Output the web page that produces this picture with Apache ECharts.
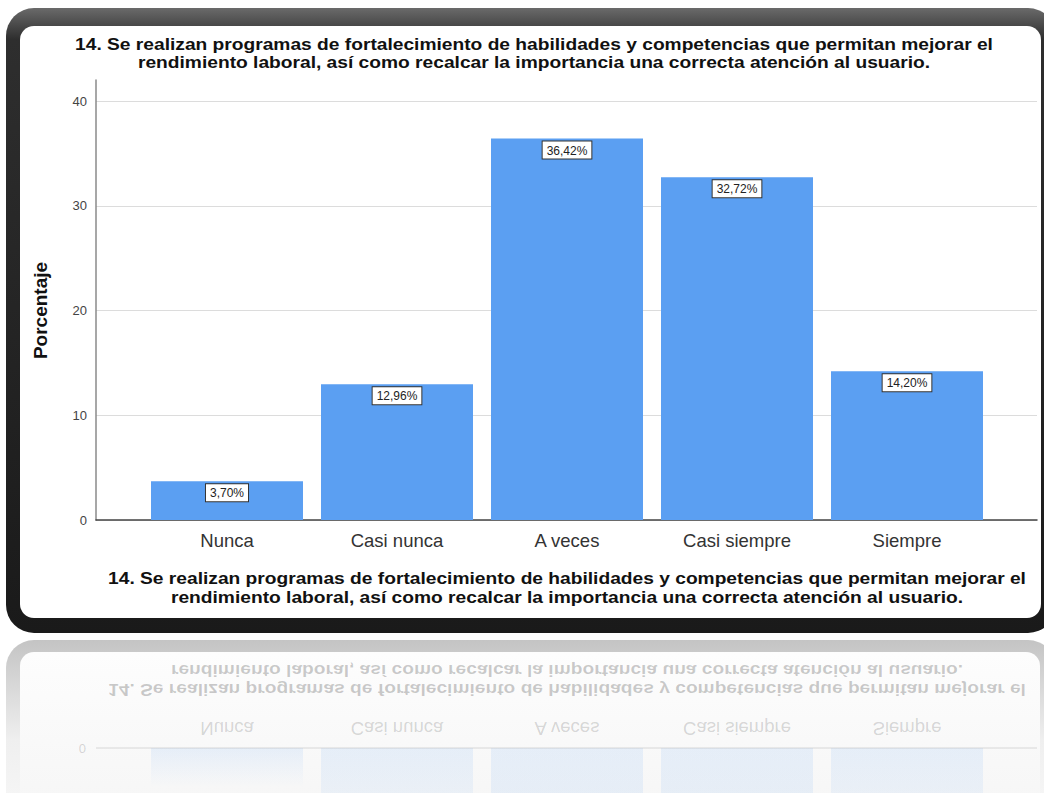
<!DOCTYPE html>
<html>
<head>
<meta charset="utf-8">
<script src="https://cdn.jsdelivr.net/npm/echarts@6/dist/echarts.min.js"></script>
<style>
html,body{margin:0;padding:0;background:#fff;}
#c{width:1044px;height:793px;}
</style>
</head>
<body>
<div id="c"></div>
<script>
const categories = ['Nunca', 'Casi nunca', 'A veces', 'Casi siempre', 'Siempre'];
const percentValues = [3.70, 12.96, 36.42, 32.72, 14.20];
const yTicks = [0, 10, 20, 30, 40];
const titleLines = [
  '14. Se realizan programas de fortalecimiento de habilidades y competencias que permitan mejorar el',
  'rendimiento laboral, así como recalcar la importancia una correcta atención al usuario.'
];
const yAxisTitle = 'Porcentaje';

const FONT = '"Liberation Sans", Arial, sans-serif';
const chart = echarts.init(document.getElementById('c'), null, {renderer: 'svg'});

const fmtPct = v => v.toFixed(2).replace('.', ',') + '%';

function titleText(txt, x, y, mirrored) {
  return {type:'text', z:5, x:x, y:y, scaleX:1.2, scaleY: mirrored ? -1 : 1,
    style:{text:txt, fontFamily:FONT, fontWeight:'bold', fontSize:16, fill:'#111',
      opacity: mirrored ? 0.22 : 1, align:'center', verticalAlign:'middle'}};
}

const frame = [
  // reflection frame
  {type:'rect', z:-10, shape:{x:6, y:640, width:1050, height:200, r:28},
   style:{fill:new echarts.graphic.LinearGradient(0,0,0,1,[{offset:0,color:'#c4c4c4'},{offset:0.5,color:'#efefef'},{offset:1,color:'#fafafa'}])}},
  {type:'rect', z:-9, shape:{x:20, y:652, width:1020, height:200, r:14},
   style:{fill:new echarts.graphic.LinearGradient(0,0,0,1,[{offset:0,color:'#fdfdfd'},{offset:1,color:'#f4f4f4'}])}},
  // main frame
  {type:'rect', z:-10, shape:{x:6, y:8, width:1050, height:625, r:28},
   style:{fill:new echarts.graphic.LinearGradient(0,0,0,1,[{offset:0,color:'#6a6a6a'},{offset:0.05,color:'#2e2e2e'},{offset:1,color:'#1a1a1a'}])}},
  {type:'rect', z:-9, shape:{x:20, y:26, width:1021, height:592, r:14},
   style:{fill:'#ffffff'}},
  // titles
  titleText(titleLines[0], 534, 45, false),
  titleText(titleLines[1], 534, 63, false),
  titleText(titleLines[0], 567, 579, false),
  titleText(titleLines[1], 567, 598, false),
  // reflected texts
  titleText(titleLines[0], 567, 689, true),
  titleText(titleLines[1], 567, 670, true),
  {type:'text', z:5, x:86, y:748, scaleY:-1, style:{text:'0', fontFamily:FONT, fontSize:13, fill:'#333', opacity:0.2, align:'right', verticalAlign:'middle'}},
  {type:'line', z:5, shape:{x1:96, y1:748, x2:1037, y2:748}, style:{stroke:'#999', opacity:0.35, lineWidth:1}}
];

const option = {
  backgroundColor: '#ffffff',
  animation: false,
  textStyle: {fontFamily: FONT},
  grid: [
    {left: 96, right: 7, top: 101, bottom: 273},
    {left: 142, right: 52, top: 101, bottom: 273},
    {left: 96, right: 7, top: 80, bottom: 273}
  ],
  xAxis: [
    {gridIndex:0, type:'value', min:0, max:1, show:true,
     axisLine:{show:true, onZero:false, lineStyle:{color:'#444', width:1.5}},
     axisTick:{show:false}, axisLabel:{show:false}, splitLine:{show:false}},
    {gridIndex:1, type:'category', data:categories,
     axisLine:{show:false}, axisTick:{show:false},
     axisLabel:{color:'#333', fontSize:18.5, margin:11, fontFamily:FONT}},
    {gridIndex:2, type:'value', min:0, max:1, show:false}
  ],
  yAxis: [
    {gridIndex:0, type:'value', min:yTicks[0], max:yTicks[yTicks.length-1], interval:10,
     name: yAxisTitle, nameLocation:'middle', nameGap:46, nameRotate:90,
     nameTextStyle:{fontSize:19, fontWeight:'bold', color:'#111', fontFamily:FONT},
     axisLine:{show:false}, axisTick:{show:false},
     axisLabel:{color:'#444', fontSize:13, margin:9, fontFamily:FONT},
     splitLine:{show:true, lineStyle:{color:'#dcdcdc', width:1}}},
    {gridIndex:1, type:'value', min:yTicks[0], max:yTicks[yTicks.length-1], show:false},
    {gridIndex:2, type:'value', min:0, max:42, show:true,
     axisLine:{show:true, lineStyle:{color:'#8a8a8a', width:1.5}},
     axisTick:{show:false}, axisLabel:{show:false}, splitLine:{show:false}}
  ],
  series: [{
    type:'bar', xAxisIndex:1, yAxisIndex:1,
    data: percentValues,
    barWidth: 152,
    itemStyle:{color:'#5b9ff2'},
    label:{show:true, position:'insideTop', distance:3,
      formatter: p => fmtPct(p.value),
      color:'#222', fontSize:12, fontFamily:FONT,
      backgroundColor:'#ffffff', borderColor:'#333', borderWidth:1,
      padding:[3,4,2,4]}
  }],
  graphic: frame
};
chart.setOption(option);

// faint reflected bars, positioned through the chart's own scales
const refl = [];
const axisY = 634;
percentValues.forEach((v, i) => {
  const base = chart.convertToPixel({xAxisIndex:1, yAxisIndex:1}, [i, 0]);
  const top = chart.convertToPixel({xAxisIndex:1, yAxisIndex:1}, [i, v]);
  const yb = 2*axisY - base[1];
  const h = base[1] - top[1];
  refl.push({type:'rect', z:4, shape:{x: base[0]-76, y: yb, width:152, height:h},
    style:{fill:new echarts.graphic.LinearGradient(0,0,0,1,[{offset:0,color:'rgba(91,159,242,0.12)'},{offset:1,color:'rgba(91,159,242,0)'}])}});
  refl.push({type:'text', z:5, x: base[0], y: 2*axisY - 540, scaleY:-1,
    style:{text: categories[i], fontFamily:FONT, fontSize:18.5, fill:'#222', opacity:0.18, align:'center', verticalAlign:'middle'}});
});
chart.setOption({graphic: frame.concat(refl)}, {replaceMerge:['graphic']});
</script>
</body>
</html>
